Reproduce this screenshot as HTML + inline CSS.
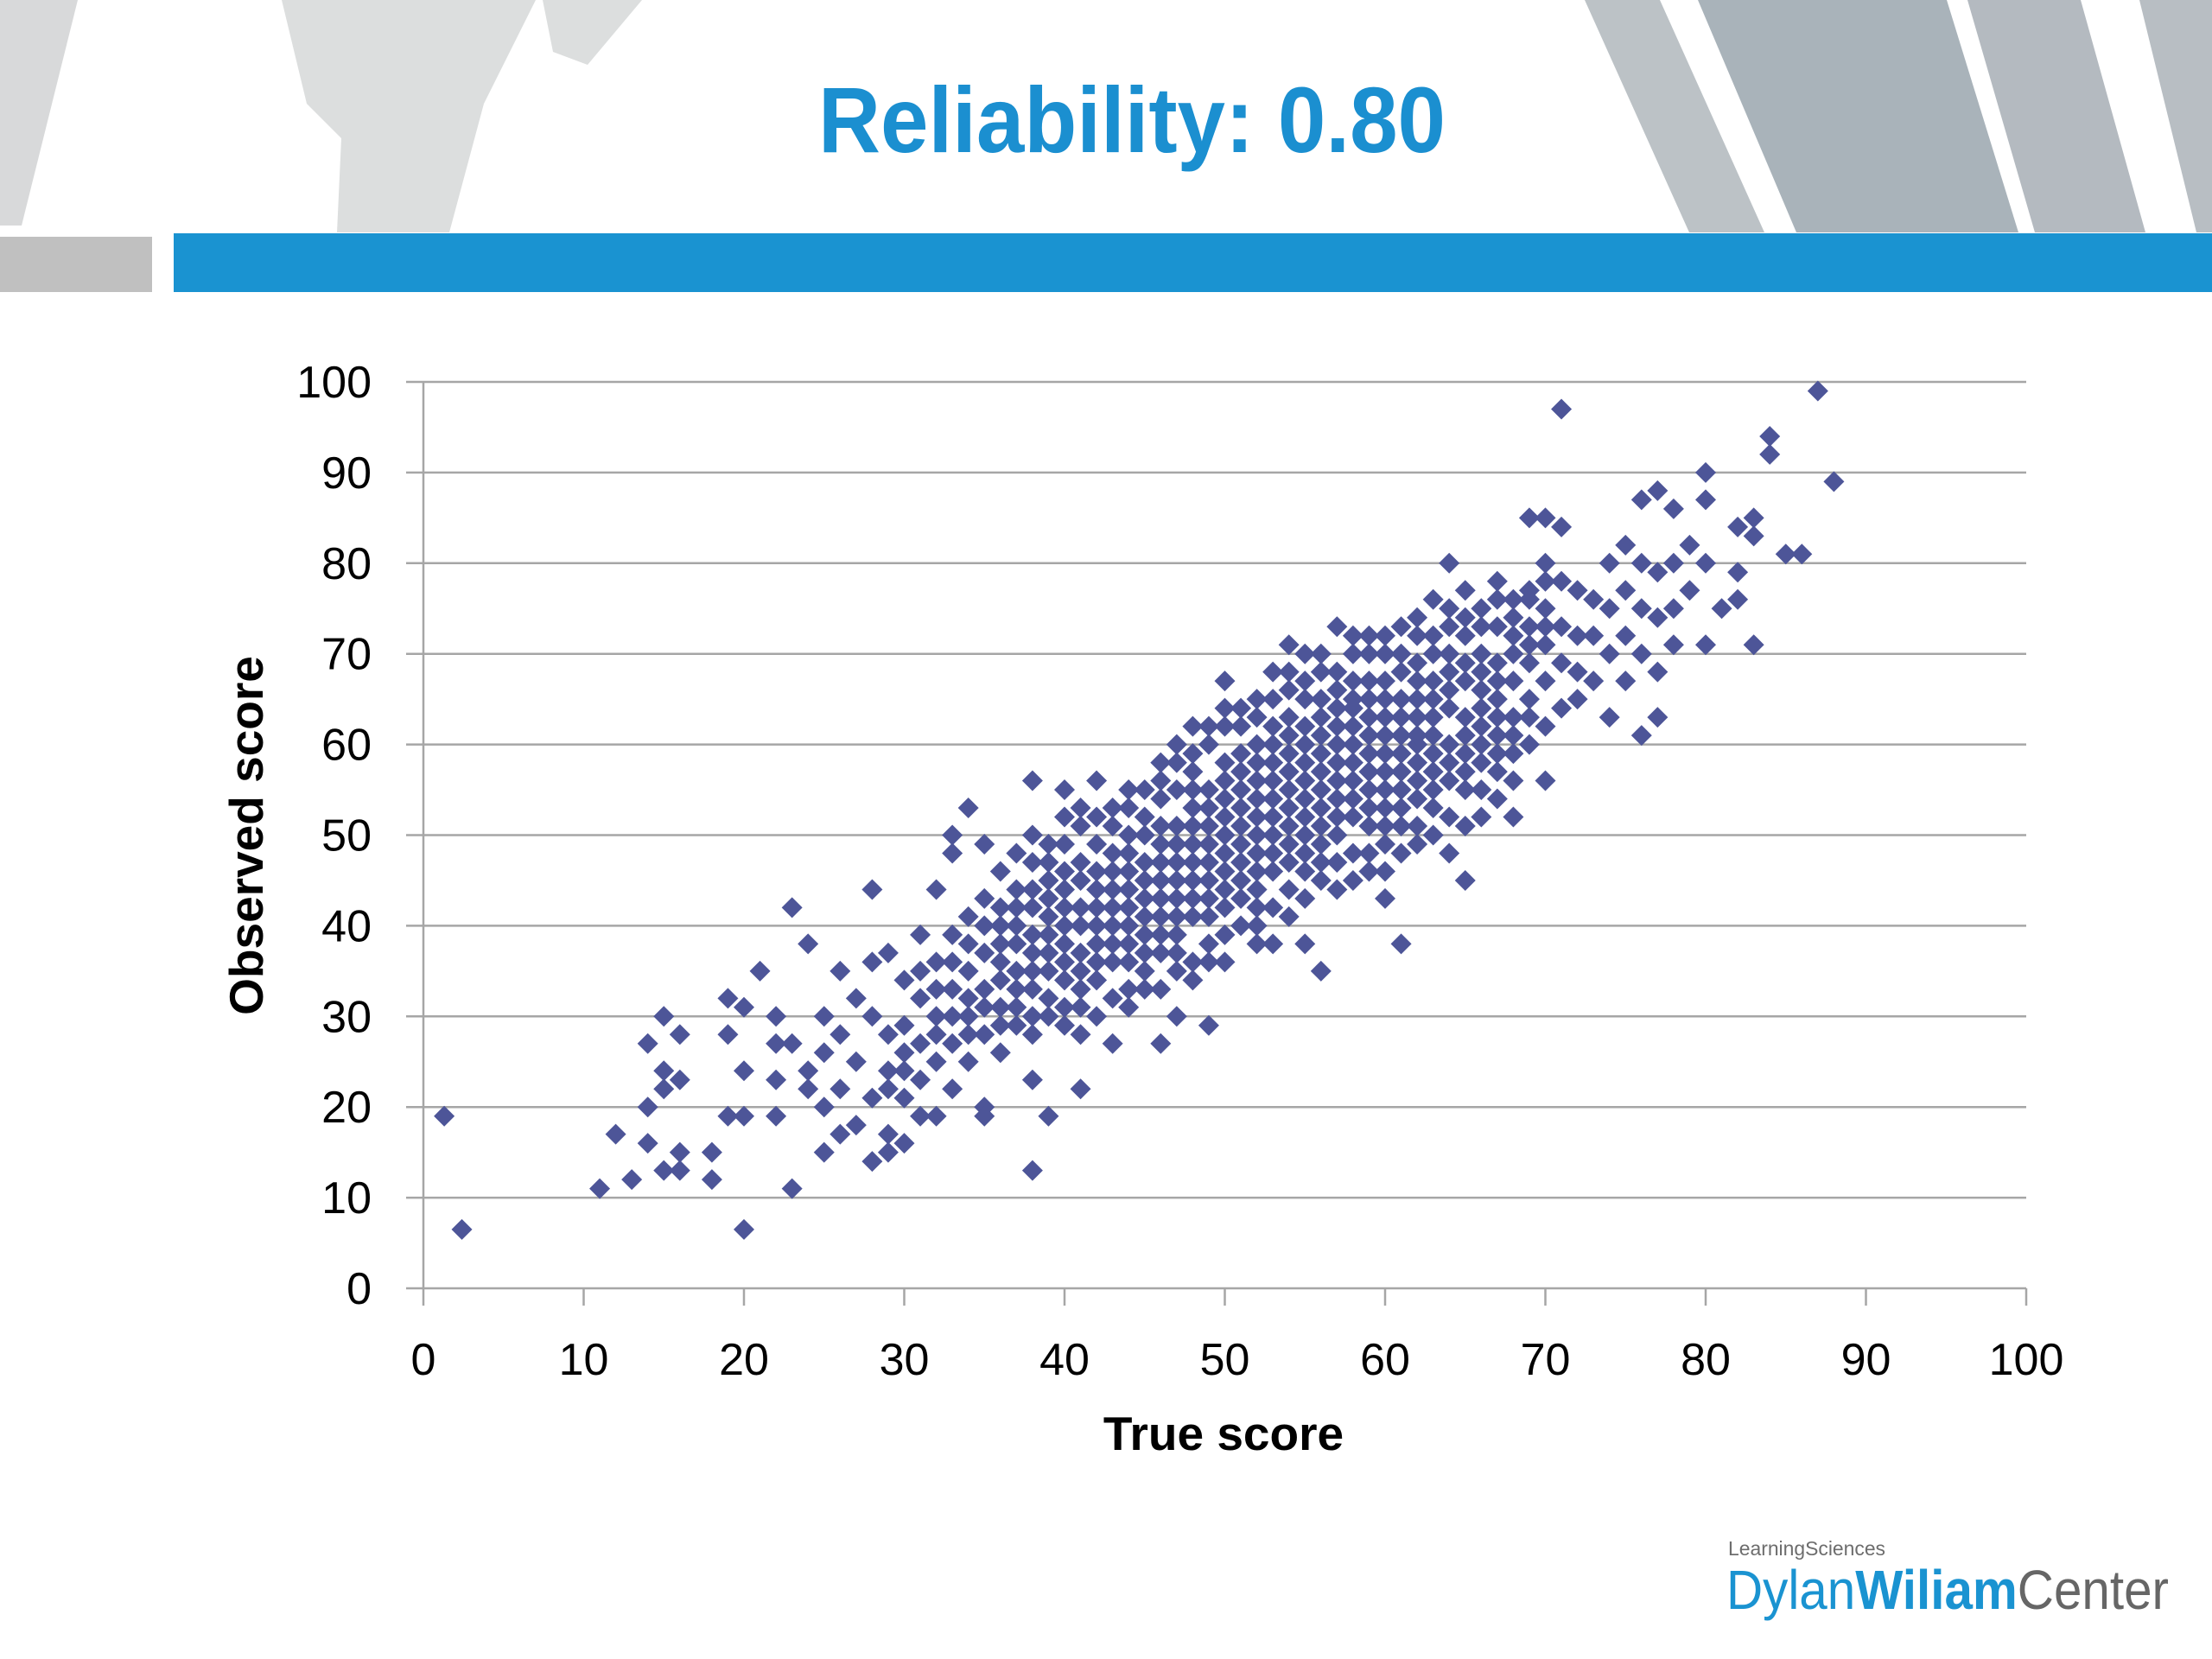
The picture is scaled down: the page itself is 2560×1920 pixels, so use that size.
<!DOCTYPE html>
<html><head><meta charset="utf-8"><style>
html,body{margin:0;padding:0;background:#fff;}
svg{display:block;font-family:"Liberation Sans",sans-serif;}
</style></head><body>
<svg id="s" width="2560" height="1920" viewBox="0 0 2560 1920">
<g>
<polygon points="0,0 90,0 25,261 0,261" fill="#d8d9da"/>
<polygon points="326,0 620,0 560,120 520,269 390,269 395,160 355,120" fill="#dcdede"/>
<polygon points="628,0 743,0 680,75 640,60" fill="#dcdede"/>
<polygon points="1834,0 1921,0 2042,269 1955,269" fill="#bcc2c6"/>
<polygon points="1965,0 2253,0 2336,269 2079,269" fill="#a9b3ba"/>
<polygon points="2277,0 2408,0 2483,269 2355,269" fill="#b4bac0"/>
<polygon points="2476,0 2560,0 2560,269 2542,269" fill="#b8bec3"/>
</g>
<rect x="0" y="274" width="176" height="64" fill="#c0c0c0"/>
<rect x="201" y="270" width="2359" height="68" fill="#1a93d1"/>
<text x="947" y="176" textLength="726" lengthAdjust="spacingAndGlyphs" font-size="108" font-weight="bold" fill="#1b8fd0">Reliability: 0.80</text>
<g id="grid"></g>
<g id="axes"></g>
<g id="pts"></g>
<text x="1416" y="1678" text-anchor="middle" font-size="55" font-weight="bold" fill="#000">True score</text>
<text transform="translate(304,967) rotate(-90)" text-anchor="middle" font-size="55" font-weight="bold" fill="#000">Observed score</text>
<g>
<text x="2000" y="1800" textLength="182" lengthAdjust="spacingAndGlyphs" font-size="23" fill="#6d6d6d">LearningSciences</text>
<text x="1998" y="1862" textLength="512" lengthAdjust="spacingAndGlyphs" font-size="64" fill="#1a93d1"><tspan>Dylan</tspan><tspan font-weight="bold">Wiliam</tspan><tspan fill="#666">Center</tspan></text>
</g>
</svg>
<script>
const xTicks=[0,10,20,30,40,50,60,70,80,90,100];
const yTicks=[0,10,20,30,40,50,60,70,80,90,100];
const trueScores=[1.3,2.4,11,12,13,14,14,14,15,15,15,15,16,16,16,16,18,18,19,19,19,20,20,20,20,21,22,22,22,22,23,23,23,24,24,24,25,25,25,25,26,26,26,26,27,27,27,28,28,28,28,28,29,29,29,29,29,30,30,30,30,30,31,31,31,31,32,32,32,32,32,33,33,33,33,33,33,34,34,34,34,34,35,35,35,35,35,35,35,36,36,36,36,36,37,37,37,37,37,38,38,38,38,38,38,38,38,39,39,39,39,39,40,40,40,40,40,40,41,41,41,41,41,41,41,42,42,42,42,42,42,43,43,43,43,43,43,44,44,44,44,44,44,45,45,45,45,45,46,46,46,46,46,46,46,47,47,47,47,47,47,47,48,48,48,48,48,48,48,49,49,49,49,49,49,49,50,50,50,50,50,50,50,50,51,51,51,51,51,51,52,52,52,52,52,52,52,53,53,53,53,53,53,53,54,54,54,54,54,54,54,55,55,55,55,55,55,55,55,56,56,56,56,56,56,56,57,57,57,57,57,57,57,58,58,58,58,58,58,59,59,59,59,59,59,59,60,60,60,60,60,60,60,61,61,61,61,61,61,61,62,62,62,62,62,62,63,63,63,63,63,63,64,64,64,64,64,64,64,65,65,65,65,65,65,65,66,66,66,66,66,66,67,67,67,67,67,67,68,68,68,68,68,68,69,69,69,69,69,69,70,70,70,70,70,70,70,71,71,71,71,71,71,72,72,72,72,73,73,73,74,74,74,74,75,75,75,75,76,76,76,76,76,77,77,77,77,77,78,78,78,78,79,79,80,80,80,80,81,82,82,82,83,83,83,84,84,85,86,87,88,
42,43,44,45,46,47,48,49,50,51,52,53,54,55,56,57,58,59,60,61,62,63,40,39,41,52,54,56,58,60,62,64,66,45,47,49,51,53,55,57,59,61,63,65,67,36,37,38,39,40,44,46,48,50,52,54,56,58,60,62,
33,34,35,36,37,38,39,40,41,42,43,44,45,46,47,48,49,50,51,52,53,54,55,56,57,58,59,60,61,62,63,64,65,66,67,68,69,70,
36,37,38,39,40,41,42,43,44,45,46,47,48,49,50,51,52,53,54,55,56,57,58,59,60,61,62,63,64,65,66,67,68,69,
34,35,36,37,38,39,40,41,42,43,44,45,46,47,48,49,50,51,52,53,54,55,56,57,58,59,60,61,62,63,64,65,66,67,68,
32,31,30,29,31,32,33,34,
38,39,40,41,42,43,44,45,46,47,48,49,50,51,52,53,54,55,56,57,58,59,60,61,62,63,64,65,66,67,68,69,70];
const observedScores=[19,6.5,11,17,12,16,20,27,30,22,24,13,28,23,15,13,15,12,32,28,19,31,24,19,6.5,35,30,27,23,19,42,27,11,38,24,22,26,30,20,15,35,28,22,17,32,25,18,44,36,30,21,14,37,28,24,17,15,34,29,26,21,16,39,32,23,19,44,36,28,25,19,50,48,39,33,27,22,53,41,35,30,25,49,43,37,33,28,20,19,46,40,36,31,26,48,42,38,33,29,56,50,44,39,35,30,23,13,47,41,37,32,19,55,49,44,40,36,31,51,45,40,37,33,28,22,56,52,46,42,38,34,53,48,44,40,36,27,55,50,46,42,38,33,52,47,43,39,35,58,54,49,45,41,37,27,60,55,51,47,43,39,30,62,57,53,49,45,41,36,60,55,51,47,43,38,29,67,62,58,54,50,46,42,36,64,59,55,51,47,43,65,60,56,52,48,44,38,68,62,58,54,50,46,38,71,66,61,57,53,49,44,70,65,60,56,52,48,43,38,68,63,59,55,51,47,35,73,66,62,58,54,50,44,70,65,60,56,52,48,72,67,63,59,55,51,46,70,65,61,57,53,49,43,73,68,63,59,55,51,38,72,67,63,58,54,49,76,70,65,61,57,53,80,73,68,64,60,56,48,77,72,67,63,59,55,45,75,70,66,62,58,52,78,73,69,65,61,57,76,72,67,63,59,52,85,77,73,69,65,60,85,80,75,71,67,62,56,97,84,78,73,69,64,77,72,68,65,76,72,67,80,75,70,63,82,77,72,67,87,80,75,70,61,88,79,74,68,63,86,80,75,71,82,77,90,87,80,71,75,84,79,76,85,83,71,94,92,81,81,99,89,
40,42,40,45,43,45,47,49,52,53,54,56,55,58,57,60,58,61,59,61,60,63,42,39,42,50,51,53,62,63,65,66,68,41,41,45,49,52,54,56,57,57,59,61,63,38,35,37,43,38,44,51,51,56,58,59,61,64,67,69,
36,38,40,34,40,42,45,46,47,44,46,48,50,47,49,55,53,48,57,46,60,63,62,65,64,67,65,55,65,61,67,70,69,64,67,70,71,73,
42,44,33,35,34,35,36,38,36,37,39,37,43,41,44,45,42,48,47,46,49,52,54,53,51,53,56,55,58,57,60,59,61,63,
32,31,29,31,28,30,29,31,30,32,31,33,33,35,34,36,39,40,40,42,41,50,45,47,45,48,46,48,51,50,52,51,55,54,56,
30,27,24,22,35,33,30,28,
47,49,52,53,49,51,53,55,56,58,59,62,64,62,63,65,68,67,70,68,72,70,72,70,74,72,75,74,73,76,74,76,78];
const NS='http://www.w3.org/2000/svg';
const X0=490,X1=2345,Y0=1491,Y1=442;
function xs(v){return X0+(v-0)/100*(X1-X0);}
function ys(v){return Y0-(v-0)/100*(Y0-Y1);}
function mk(t,a,p){const e=document.createElementNS(NS,t);for(const k in a)e.setAttribute(k,a[k]);p.appendChild(e);return e;}
const grid=document.getElementById('grid'),axes=document.getElementById('axes'),pts=document.getElementById('pts');
yTicks.forEach(v=>{
  if(v>0){const g=mk('line',{x1:X0,x2:X1,y1:ys(v),y2:ys(v),stroke:'#a6a6a6','stroke-width':2.5},grid);
  
  }
  const tk=mk('line',{x1:X0-20,x2:X0,y1:ys(v),y2:ys(v),stroke:'#a6a6a6','stroke-width':2.5},axes);
  
  
  const t=mk('text',{x:430,y:ys(v)+18,'text-anchor':'end','font-size':52,fill:'#000'},axes);
  t.textContent=v;
  
  
});
xTicks.forEach(v=>{
  const tk=mk('line',{x1:xs(v),x2:xs(v),y1:Y0,y2:Y0+20,stroke:'#a6a6a6','stroke-width':2.5},axes);
  
  
  const t=mk('text',{x:xs(v),y:1591,'text-anchor':'middle','font-size':52,fill:'#000'},axes);
  t.textContent=v;
  
  
});
const xa=mk('line',{x1:X0,x2:X1,y1:Y0,y2:Y0,stroke:'#a6a6a6','stroke-width':2.5},axes);


const ya=mk('line',{x1:X0,x2:X0,y1:Y1,y2:Y0,stroke:'#a6a6a6','stroke-width':2.5},axes);


const r=12;
trueScores.forEach((tv,i)=>{
  const cx=xs(tv),cy=ys(observedScores[i]);
  const p=mk('polygon',{points:`${cx},${cy-r} ${cx+r},${cy} ${cx},${cy+r} ${cx-r},${cy}`,fill:'#4d5598'},pts);
  
  
});
</script>
</body></html>
